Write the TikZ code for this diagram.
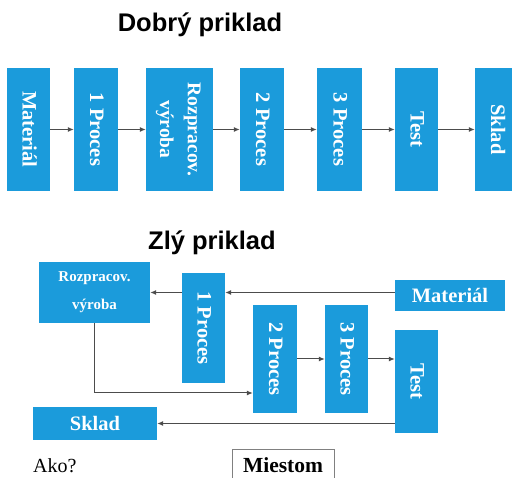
\documentclass[tikz,border=0pt]{standalone}
\usepackage{fontspec}
\usetikzlibrary{arrows.meta}
\setmainfont{Liberation Serif}
\newfontfamily\nadpisfont{Liberation Sans}
\definecolor{modra}{RGB}{27,155,219}
\renewcommand{\arraystretch}{1.2}
\newcommand{\zvisle}[1]{\rotatebox{-90}{\begin{tabular}{@{}c@{}}#1\end{tabular}}}

\begin{document}
\begin{tikzpicture}[>={Latex[length=6pt,width=5pt]},x=1pt,y=-1pt,
	blok/.style={fill=modra,text=white,inner sep=0pt,font=\bfseries\fontsize{20.5}{24}\selectfont},
	nadpis/.style={font=\nadpisfont\bfseries\fontsize{25.5}{30}\selectfont},
	sipka/.style={->,draw=black!70,line width=1pt}]

\useasboundingbox (0,0) rectangle (512,478);

\def\hr{129.5}
\def\vys{123pt}

% dobry priklad
\node[nadpis] (nadpis1) at (200,25) {Dobrý priklad};

\node[blok,minimum width=43pt,minimum height=\vys] (mat) at (28.5,\hr) {\zvisle{Materiál}};
\node[blok,minimum width=44pt,minimum height=\vys] (p1) at (96,\hr) {\zvisle{1 Proces}};
\node[blok,minimum width=67pt,minimum height=\vys,font=\bfseries\fontsize{19.5}{23}\selectfont] (rozp) at (179.5,\hr) {\zvisle{Rozpracov.\\výroba}};
\node[blok,minimum width=44pt,minimum height=\vys] (p2) at (262,\hr) {\zvisle{2 Proces}};
\node[blok,minimum width=45pt,minimum height=\vys] (p3) at (339.5,\hr) {\zvisle{3 Proces}};
\node[blok,minimum width=43pt,minimum height=\vys] (test) at (416.5,\hr) {\zvisle{Test}};
\node[blok,minimum width=44pt,minimum height=\vys] (sklad) at (497,\hr) {\zvisle{Sklad}};

\foreach \a/\b in {mat/p1,p1/rozp,rozp/p2,p2/p3,p3/test,test/sklad}
	\draw[sipka] (\a) -- (\b);

% zly priklad
\node[nadpis] (nadpis2) at (212,243) {Zlý priklad};

\node[blok,minimum width=111pt,minimum height=61pt,font=\bfseries\fontsize{15}{28}\selectfont,align=center] (rozp2) at (94.5,292.5) {Rozpracov.\\výroba};
\node[blok,minimum width=43pt,minimum height=110pt] (p1b) at (203.5,328) {\zvisle{1 Proces}};
\node[blok,minimum width=110pt,minimum height=31pt] (matb) at (450,295.5) {Materiál};
\node[blok,minimum width=44pt,minimum height=108pt] (p2b) at (275,359) {\zvisle{2 Proces}};
\node[blok,minimum width=43pt,minimum height=108pt] (p3b) at (346.5,359) {\zvisle{3 Proces}};
\node[blok,minimum width=43pt,minimum height=103pt] (testb) at (416.5,381.5) {\zvisle{Test}};
\node[blok,minimum width=124pt,minimum height=33pt] (skladb) at (95,423.5) {Sklad};

\draw[sipka] (rozp2.east -| matb.west) -- (rozp2.east -| p1b.east);
\draw[sipka] (rozp2.east -| p1b.west) -- (rozp2.east);
\draw[sipka] (rozp2.south) |- ([yshift=-34pt]p2b.west);
\draw[sipka] (p2b.east) -- (p3b.west);
\draw[sipka] (p3b.east) -- (p3b.east -| testb.west);
\draw[sipka] (skladb.east -| testb.west) -- (skladb.east);

\node[anchor=base west,inner sep=0pt,font=\fontsize{20}{24}\selectfont] (ako) at (33,473) {Ako?};
\node[draw=black!50,line width=0.8pt,minimum width=102pt,minimum height=32pt,inner sep=0pt,font=\bfseries\fontsize{21.5}{25}\selectfont] (miestom) at (283,465) {Miestom};

\end{tikzpicture}
\end{document}
